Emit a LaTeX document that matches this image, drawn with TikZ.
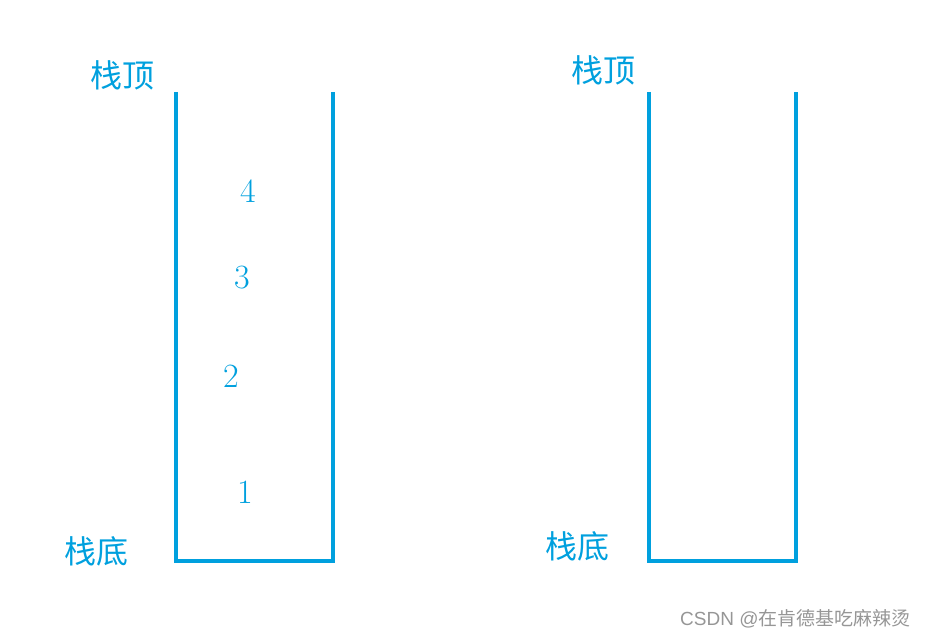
\documentclass[tikz,border=0pt]{standalone}
\usepackage{fontspec}
\newfontfamily\cjk{Noto Sans CJK SC}
\newfontfamily\wmfont{Liberation Sans}
\definecolor{stackblue}{RGB}{0,160,222}
\definecolor{wmgray}{RGB}{150,150,150}
\begin{document}
\begin{tikzpicture}[x=1pt,y=-1pt,
  wall/.style={draw=stackblue,line width=4pt,line join=miter},
  cjklabel/.style={text=stackblue,font=\cjk\fontsize{32}{32}\selectfont,inner sep=0pt},
  numlabel/.style={text=stackblue,font=\fontsize{34}{34}\selectfont,inner sep=0pt}]
\useasboundingbox (0,0) rectangle (926,639);
% left stack
\coordinate (l1) at (176,92);
\coordinate (l2) at (176,561);
\coordinate (l3) at (333,561);
\coordinate (l4) at (333,92);
\draw[wall] (l1) -- (l2) -- (l3) -- (l4);
% right stack
\coordinate (r1) at (649,92);
\coordinate (r2) at (649,561);
\coordinate (r3) at (796,561);
\coordinate (r4) at (796,92);
\draw[wall] (r1) -- (r2) -- (r3) -- (r4);
% labels
\node[cjklabel] (ltop) at (122,75) {栈顶};
\node[cjklabel] (lbot) at (96,551) {栈底};
\node[cjklabel] (rtop) at (603,70) {栈顶};
\node[cjklabel] (rbot) at (577,546) {栈底};
\node[numlabel] (n4) at (248,191) {4};
\node[numlabel] (n3) at (242,278) {3};
\node[numlabel] (n2) at (231,376) {2};
\node[numlabel] (n1) at (245,492) {1};
% watermark
\node[text=wmgray,inner sep=0pt,anchor=west] (wm) at (680,619) {\wmfont\fontsize{19}{19}\selectfont CSDN @\cjk 在肯德基吃麻辣烫};
\end{tikzpicture}
\end{document}
